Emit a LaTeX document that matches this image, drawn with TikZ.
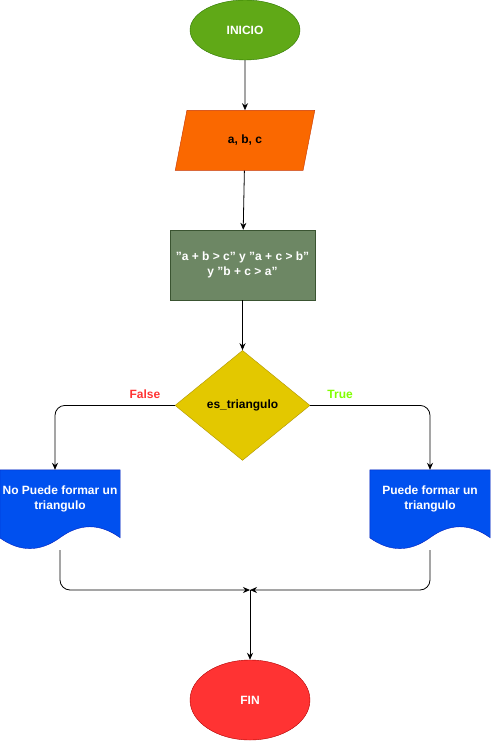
\documentclass[tikz,border=0pt]{standalone}
\usepackage{fontspec}
\setmainfont{Liberation Sans}
\definecolor{FCGreen}{HTML}{60A917}
\definecolor{FCGreenLine}{HTML}{2D7600}
\definecolor{FCOrange}{HTML}{FA6800}
\definecolor{FCOrangeLine}{HTML}{C73500}
\definecolor{FCOlive}{HTML}{6D8764}
\definecolor{FCOliveLine}{HTML}{3A5431}
\definecolor{FCYellow}{HTML}{E3C800}
\definecolor{FCYellowLine}{HTML}{B09500}
\definecolor{FCBlue}{HTML}{0050EF}
\definecolor{FCBlueLine}{HTML}{001DBC}
\definecolor{FCRed}{HTML}{FF3333}
\definecolor{FCRedLine}{HTML}{B20000}
\definecolor{FCLime}{HTML}{80FF00}
\usepackage{tikz}
\usetikzlibrary{positioning,shapes.geometric,arrows.meta}

\begin{document}
\begin{tikzpicture}[x=1pt, y=-1pt, font=\fontsize{12}{15}\selectfont\bfseries,
    every node/.style={inner sep=0pt, align=center},
    link/.style={-{Stealth[length=7pt,width=6pt]}, line width=0.8pt},
    docbox/.style={minimum width=120pt, minimum height=80pt}]
  \useasboundingbox (0,0) rectangle (491,741);
  \node[ellipse, draw=FCGreenLine, fill=FCGreen, text=white, minimum width=110pt, minimum height=60pt] (inicio) at (245,30) {INICIO};
  \node[trapezium, trapezium left angle=72, trapezium right angle=108, trapezium stretches=true, draw=FCOrangeLine, fill=FCOrange, minimum width=140pt, minimum height=60pt, below=50pt of inicio] (datos) {a, b, c};
  \node[draw=FCOliveLine, fill=FCOlive, text=white, minimum width=145pt, minimum height=70pt] (cond) at (242.5,265) {"a + b > c" y "a + c > b"\\y "b + c > a"};
  \node[diamond, draw=FCYellowLine, fill=FCYellow, minimum width=135pt, minimum height=110pt, below=50pt of cond] (dec) {es\_triangulo};
  \node[docbox] (nodoc) at (60,510) {};
  \node[docbox] (sidoc) at (430,510) {};
  \foreach \d in {nodoc,sidoc}
    \draw[draw=FCBlueLine, fill=FCBlue] (\d.north west) -- (\d.north east) -- ([yshift=-68pt]\d.north east)
      .. controls ([xshift=100pt,yshift=-53.3pt]\d.north west) and ([xshift=80pt,yshift=-53.3pt]\d.north west) .. ([xshift=60pt,yshift=-68pt]\d.north west)
      .. controls ([xshift=40pt,yshift=-82.4pt]\d.north west) and ([xshift=20pt,yshift=-82.4pt]\d.north west) .. ([yshift=-68pt]\d.north west) -- cycle;
  \node[text=white] (notxt) at ([yshift=11pt]nodoc.center) {No Puede formar un\\triangulo};
  \node[text=white] (sitxt) at ([yshift=11pt]sidoc.center) {Puede formar un\\triangulo};
  \coordinate (join) at (250,590);
  \node[ellipse, draw=FCRedLine, fill=FCRed, text=white, minimum width=120pt, minimum height=80pt] (fin) at (250,700) {FIN};
  \draw[link] (inicio) -- (datos);
  \draw[link] (datos) -- (cond);
  \draw[link] (cond) -- (dec);
  \draw[link, rounded corners=10pt] (dec.west) -| ([xshift=-5pt]nodoc.north) node[pos=0.125, above=6pt, text=FCRed] {False};
  \draw[link, rounded corners=10pt] (dec.east) -| (sidoc.north) node[pos=0.125, above=6pt, text=FCLime] {True};
  \draw[link, rounded corners=10pt] (nodoc.south) |- (join);
  \draw[link, rounded corners=10pt] (sidoc.south) |- (join);
  \draw[link] (join) -- (fin);
\end{tikzpicture}
\end{document}
